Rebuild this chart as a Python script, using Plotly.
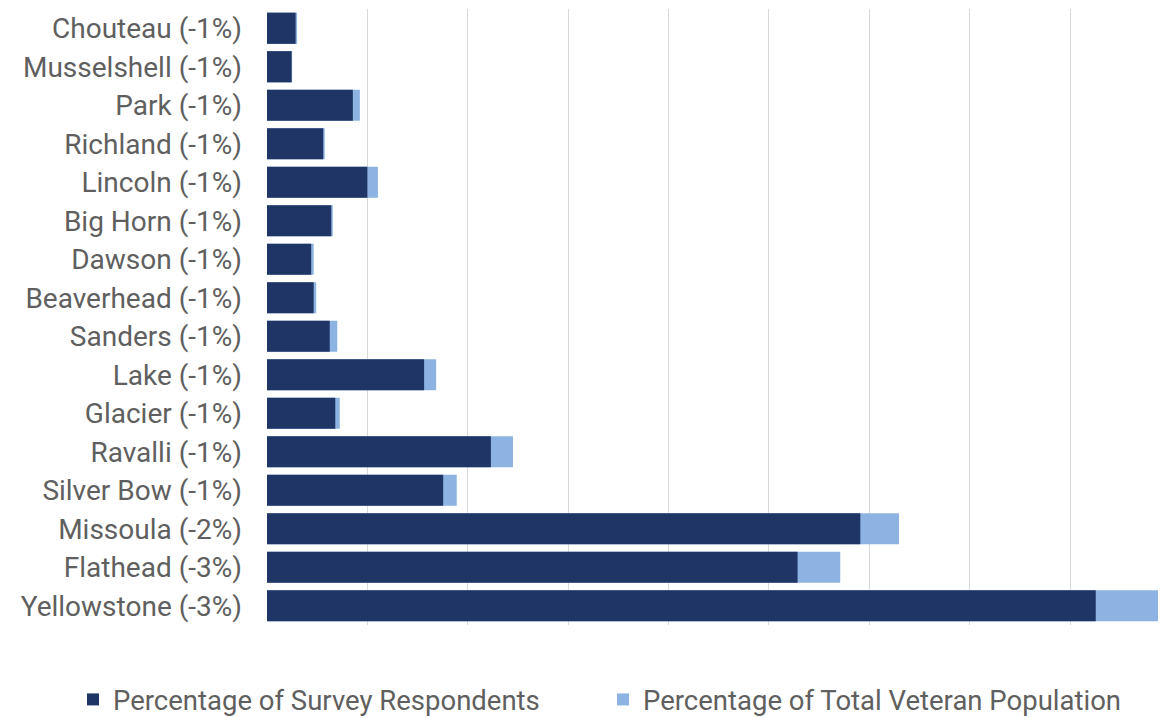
import plotly.graph_objects as go

counties = ["Chouteau (-1%)", "Musselshell (-1%)", "Park (-1%)", "Richland (-1%)",
            "Lincoln (-1%)", "Big Horn (-1%)", "Dawson (-1%)", "Beaverhead (-1%)",
            "Sanders (-1%)", "Lake (-1%)", "Glacier (-1%)", "Ravalli (-1%)",
            "Silver Bow (-1%)", "Missoula (-2%)", "Flathead (-3%)", "Yellowstone (-3%)"]
survey_pct = [0.57, 0.49, 1.71, 1.12, 2.00, 1.28, 0.88, 0.93,
              1.25, 3.13, 1.36, 4.46, 3.51, 11.82, 10.57, 16.51]
veteran_pct = [0.60, 0.50, 1.85, 1.15, 2.21, 1.31, 0.93, 0.98,
               1.40, 3.37, 1.45, 4.90, 3.78, 12.59, 11.42, 17.75]

DARK = "#1f3566"
LIGHT = "#8db3e2"
TEXT = "#5f5f5f"
FONT = "Roboto"

fig = go.Figure()
fig.add_trace(go.Bar(y=counties, x=veteran_pct, orientation="h",
                     name="Percentage of Total Veteran Population",
                     marker=dict(color=LIGHT, line=dict(width=0)), legendrank=2))
fig.add_trace(go.Bar(y=counties, x=survey_pct, orientation="h",
                     name="Percentage of Survey Respondents",
                     marker=dict(color=DARK, line=dict(width=0)), legendrank=1))

fig.update_layout(
    width=1165, height=740,
    margin=dict(l=267, r=4, t=9, b=115),
    barmode="overlay", bargap=0.19,
    plot_bgcolor="white", paper_bgcolor="white",
    font=dict(family=FONT, size=28, color=TEXT),
    showlegend=True,
    legend=dict(orientation="h", x=-0.217, xanchor="left", y=-0.121, yanchor="middle",
                font=dict(family=FONT, size=27.5, color=TEXT),
                entrywidth=485, entrywidthmode="pixels",
                itemclick=False, bgcolor="rgba(0,0,0,0)"),
)
fig.update_xaxes(range=[0, 17.81], dtick=2, showticklabels=False, showgrid=True,
                 gridcolor="#d9d9d9", gridwidth=1, zeroline=False, showline=False)
fig.update_yaxes(autorange="reversed", showgrid=False, zeroline=False, showline=False,
                 ticks="", ticklabelstandoff=24,
                 tickfont=dict(family=FONT, size=28, color=TEXT))

fig.write_html("out.html", config={"displayModeBar": False},
               post_script="document.body.style.margin='0';document.body.style.overflow='hidden';")
